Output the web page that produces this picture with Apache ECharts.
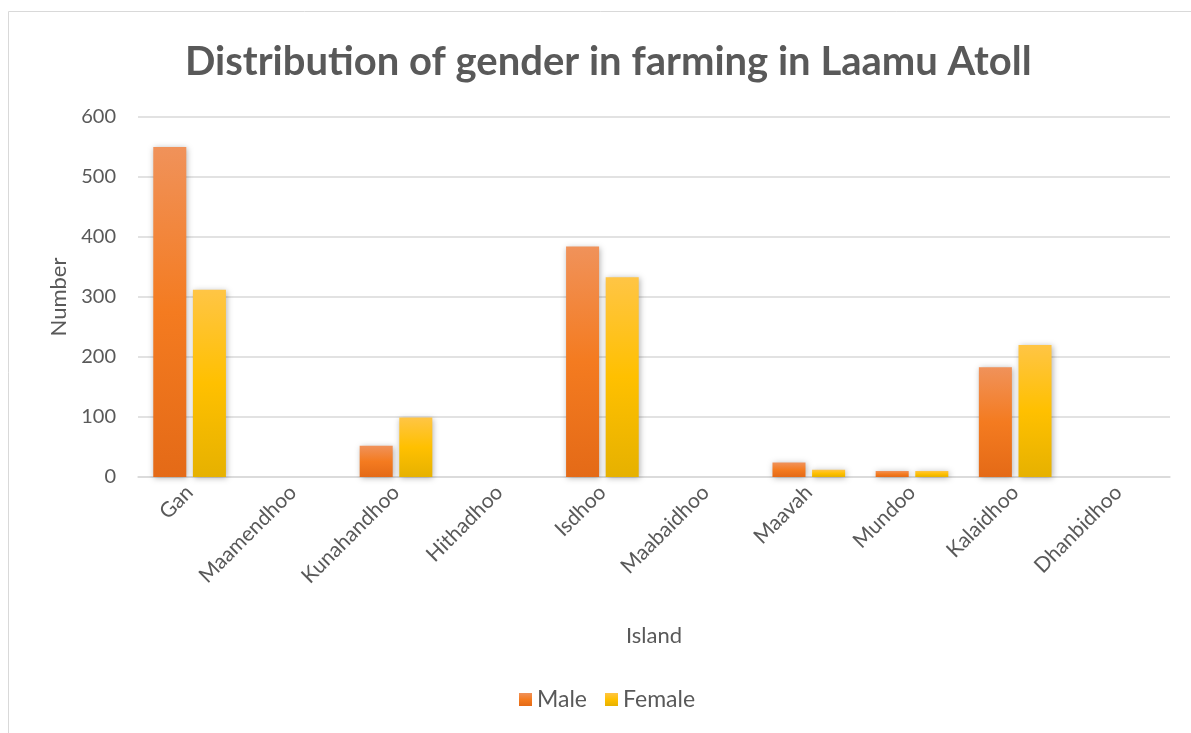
<!DOCTYPE html>
<html><head><meta charset="utf-8">
<script src="https://cdn.jsdelivr.net/npm/echarts@6/dist/echarts.min.js"></script>
<style>html,body{margin:0;padding:0;background:#fff}#c{width:1191px;height:733px}</style>
</head><body><div id="c"></div>
<script>
const islands = ['Gan','Maamendhoo','Kunahandhoo','Hithadhoo','Isdhoo','Maabaidhoo','Maavah','Mundoo','Kalaidhoo','Dhanbidhoo'];
const male = [550, 0, 52, 0, 384, 0, 24, 10, 183, 0];
const female = [312, 0, 99, 0, 333, 0, 12, 10, 220, 0];
const yTicks = [0, 100, 200, 300, 400, 500, 600];

const F = 'Lato, "Open Sans", sans-serif';
const grad = (a,b,c) => new echarts.graphic.LinearGradient(0,0,0,1,[{offset:0,color:a},{offset:0.5,color:b},{offset:1,color:c}]);
const chart = echarts.init(document.getElementById('c'));
chart.setOption({
  animation: false,
  graphic: [{type:'rect', shape:{x:8.5,y:11.5,width:1200,height:800}, style:{fill:'none',stroke:'#d9d9d9',lineWidth:1}, silent:true, z:-1}],
  title: {text:'Distribution of gender in farming in Laamu Atoll', left:180, top:37,
    textStyle:{fontFamily:F, fontWeight:'bold', fontSize:40, color:'#595959'}},
  legend: {bottom:17, left:514, itemWidth:13, itemHeight:13, itemGap:18, icon:'rect',
    textStyle:{fontFamily:F, fontSize:23, color:'#595959'}, data:['Male','Female']},
  grid: {left:138, right:21, top:117, bottom:256},
  xAxis: {type:'category', data:islands, name:'Island', nameLocation:'middle', nameGap:148,
    nameTextStyle:{fontFamily:F, fontSize:22, color:'#595959'},
    axisLine:{lineStyle:{color:'#d9d9d9', width:1.5}}, axisTick:{show:false},
    axisLabel:{rotate:45, fontFamily:F, fontSize:21, color:'#595959', margin:12, interval:0}},
  yAxis: {type:'value', min:yTicks[0], max:yTicks[yTicks.length-1], interval:100,
    name:'Number', nameLocation:'middle', nameGap:68,
    nameTextStyle:{fontFamily:F, fontSize:22, color:'#595959'},
    axisLine:{show:false}, axisTick:{show:false},
    axisLabel:{fontFamily:F, fontSize:20, color:'#595959', margin:22},
    splitLine:{lineStyle:{color:'#d9d9d9', width:1.5}}},
  series: [
    {name:'Male', type:'bar', data:male, barWidth:'32%', barGap:'20%',
     itemStyle:{color:grad('#f0925a','#f47b20','#e46a17'), shadowBlur:6, shadowColor:'rgba(0,0,0,0.3)', shadowOffsetX:1, shadowOffsetY:1}},
    {name:'Female', type:'bar', data:female, barWidth:'32%',
     itemStyle:{color:grad('#ffc545','#ffc000','#e6b100'), shadowBlur:6, shadowColor:'rgba(0,0,0,0.3)', shadowOffsetX:1, shadowOffsetY:1}}
  ]
});
</script></body></html>
